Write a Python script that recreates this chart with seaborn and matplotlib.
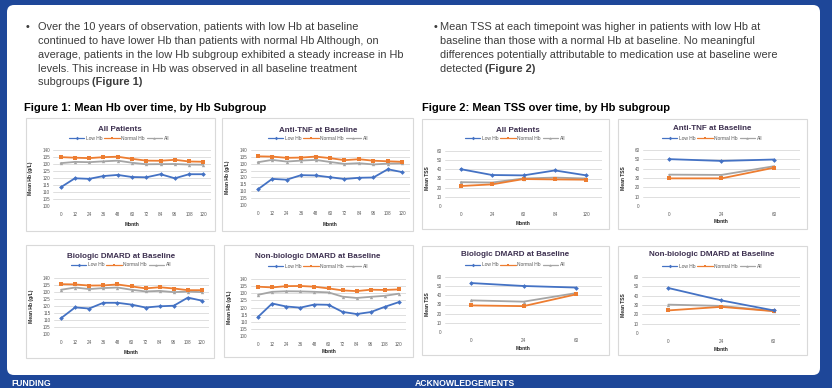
import numpy as np
import pandas as pd
import seaborn as sns
import matplotlib.pyplot as plt
from matplotlib.patches import FancyBboxPatch, Rectangle
from matplotlib.lines import Line2D

# ---------------- data ----------------
groups = ["Low Hb", "Normal Hb", "All"]
months_hb = ["0", "12", "24", "36", "48", "60", "72", "84", "96", "108", "120"]
months_tss_all = ["0", "24", "60", "84", "120"]
months_tss_sub = ["0", "24", "60"]

hb_all_low = [113.3, 119.8, 119.4, 121.4, 122.2, 120.7, 120.5, 122.7, 119.8, 122.7, 122.7]
hb_all_normal = [134.9, 134.5, 134.2, 134.9, 135.2, 133.7, 132.4, 132.3, 133.0, 131.8, 131.6]
hb_all_all = [130.6, 131.5, 131.3, 131.9, 132.4, 130.9, 129.8, 129.9, 130.0, 129.6, 129.5]

hb_tnf_low = [111.3, 119.0, 118.4, 121.7, 121.5, 120.2, 118.9, 119.8, 120.0, 126.0, 123.9]
hb_tnf_normal = [135.4, 135.2, 134.3, 134.5, 135.2, 134.1, 132.6, 133.3, 132.2, 131.8, 131.4]
hb_tnf_all = [131.1, 132.8, 131.6, 132.3, 132.8, 131.3, 129.9, 130.4, 129.5, 130.1, 130.3]

hb_bio_low = [111.3, 119.0, 118.2, 122.3, 122.3, 121.0, 118.9, 119.8, 120.2, 126.0, 123.8]
hb_bio_normal = [135.6, 135.4, 134.6, 134.7, 135.4, 134.0, 132.6, 133.4, 132.5, 131.3, 131.3]
hb_bio_all = [131.6, 133.2, 132.1, 132.8, 133.2, 131.6, 130.4, 130.8, 129.9, 130.3, 129.9]

hb_nonbio_low = [113.4, 122.8, 120.7, 119.9, 122.1, 121.9, 116.9, 115.4, 116.8, 120.5, 123.8]
hb_nonbio_normal = [134.6, 134.1, 135.0, 135.1, 134.6, 133.4, 132.0, 131.5, 132.5, 132.3, 132.7]
hb_nonbio_all = [128.9, 131.0, 131.4, 131.3, 131.0, 130.6, 127.6, 126.7, 127.5, 128.2, 129.7]

tss_all_low = [40.2, 33.8, 33.4, 38.8, 33.4]
tss_all_normal = [21.8, 23.6, 29.4, 29.0, 28.7]
tss_all_all = [26.0, 25.6, 30.0, 31.0, 30.0]

tss_tnf_low = [50.2, 48.3, 49.8]
tss_tnf_normal = [29.6, 29.6, 41.0]
tss_tnf_all = [33.6, 33.3, 42.6]

tss_bio_low = [53.4, 50.2, 48.5]
tss_bio_normal = [29.0, 28.2, 41.0]
tss_bio_all = [34.5, 33.1, 42.4]

tss_nonbio_low = [48.2, 35.0, 24.2]
tss_nonbio_normal = [24.2, 28.0, 23.4]
tss_nonbio_all = [30.4, 29.0, 23.6]

hb_yticks = [100, 105, 110, 115, 120, 125, 130, 135, 140]
tss_yticks = [0, 10, 20, 30, 40, 50, 60]

titles = ["All Patients", "Anti-TNF at Baseline", "Biologic DMARD at Baseline",
          "Non-biologic DMARD at Baseline"]

body_left = [
    "Over the 10 years of observation, patients with low Hb at baseline",
    "continued to have lower Hb than patients with normal Hb Although, on",
    "average, patients in the low Hb subgroup exhibited a steady increase in Hb",
    "levels. This increase in Hb was observed in all baseline treatment",
    "subgroups ",
]
body_left_bold = "(Figure 1)"
body_right = [
    "Mean TSS at each timepoint was higher in patients with low Hb at",
    "baseline than those with a normal Hb at baseline. No meaningful",
    "differences potentially attributable to medication use at baseline were",
    "detected ",
]
body_right_bold = "(Figure 2)"
heading1 = "Figure 1: Mean Hb over time, by Hb Subgroup"
heading2 = "Figure 2: Mean TSS over time, by Hb subgroup"
footer_left = "FUNDING"
footer_right = "ACKNOWLEDGEMENTS"

# ---------------- style ----------------
W, H = 832, 388
BLUE = "#1e4799"
palette = {"Low Hb": "#4472c4", "Normal Hb": "#ed7d31", "All": "#a5a5a5"}
markers = {"Low Hb": "D", "Normal Hb": "s", "All": "^"}

sns.set_theme(style="white")
plt.rcParams["font.family"] = ["Liberation Sans", "DejaVu Sans"]

fig = plt.figure(figsize=(W / 100, H / 100), dpi=100)
fig.patch.set_facecolor(BLUE)

bg = fig.add_axes([0, 0, 1, 1])
bg.set_xlim(0, W)
bg.set_ylim(H, 0)
bg.axis("off")

bg.add_patch(FancyBboxPatch((7, 5), 813, 370, boxstyle="round,pad=0,rounding_size=7",
                            facecolor="white", edgecolor="none"))

TXT = "#3c3c3c"
FS = 7.9


def body(lines, bold_tail, x_bullet, x0, ys):
    bg.text(x_bullet, ys[0] + 3.2, "\u2022", fontsize=FS, color=TXT, ha="center", va="baseline")
    last = None
    for ln, y in zip(lines, ys):
        last = bg.text(x0, y + 3.5, ln, fontsize=FS, color=TXT, ha="left", va="baseline")
    fig.canvas.draw()
    bb = last.get_window_extent()
    xend = bb.x1  # pixels
    bg.text(xend, ys[len(lines) - 1] + 3.5, bold_tail, fontsize=FS, color=TXT,
            fontweight="bold", ha="left", va="baseline")


body(body_left, body_left_bold, 28, 37.5, [27, 40.7, 54.3, 68, 81.5])
body(body_right, body_right_bold, 435.5, 440, [26.8, 40.7, 54.5, 68.5])

bg.text(24.5, 107 + 3.8, heading1, fontsize=8.0, fontweight="bold", color="black",
        ha="left", va="baseline")
bg.text(421.5, 107 + 3.8, heading2, fontsize=8.0, fontweight="bold", color="black",
        ha="left", va="baseline")

bg.text(11, 378.5, footer_left, fontsize=6.2, fontweight="bold", color="white",
        ha="left", va="top")
bg.text(415, 378.5, footer_right, fontsize=6.2, fontweight="bold", color="white",
        ha="left", va="top")

charts = [
    dict(title=titles[0], months=months_hb, low=hb_all_low, normal=hb_all_normal, al=hb_all_all,
         yt=hb_yticks, ylabel="Mean Hb (g/L)", area=(53.5, 150, 210.5, 206),
         frame=(26, 118, 215, 231), tpos=(120, 129.5), lpos=(119, 138.5), ylx=33, xly=222),
    dict(title=titles[1], months=months_hb, low=hb_tnf_low, normal=hb_tnf_normal, al=hb_tnf_all,
         yt=hb_yticks, ylabel="Mean Hb (g/L)", area=(250.5, 150, 409.5, 205),
         frame=(222, 118, 413, 231), tpos=(318, 130), lpos=(318, 138.5), ylx=230, xly=222),
    dict(title=titles[0], months=months_tss_all, low=tss_all_low, normal=tss_all_normal,
         al=tss_all_all, yt=tss_yticks, ylabel="Mean TSS", area=(445, 151, 602, 206),
         frame=(422, 119, 609, 229), tpos=(518, 130), lpos=(515, 138.5), ylx=430, xly=221),
    dict(title=titles[1], months=months_tss_sub, low=tss_tnf_low, normal=tss_tnf_normal,
         al=tss_tnf_all, yt=tss_yticks, ylabel="Mean TSS", area=(643, 150, 800, 206),
         frame=(618, 119, 807, 229), tpos=(712, 128.5), lpos=(712, 138), ylx=626, xly=219),
    dict(title=titles[2], months=months_hb, low=hb_bio_low, normal=hb_bio_normal, al=hb_bio_all,
         yt=hb_yticks, ylabel="Mean Hb (g/L)", area=(54, 278, 209, 334),
         frame=(26, 245, 214, 358), tpos=(121, 256), lpos=(121, 265), ylx=34, xly=350),
    dict(title=titles[3], months=months_hb, low=hb_nonbio_low, normal=hb_nonbio_normal,
         al=hb_nonbio_all, yt=hb_yticks, ylabel="Mean Hb (g/L)", area=(251, 279, 406, 336),
         frame=(224, 245, 413, 357), tpos=(318, 257), lpos=(318, 266), ylx=232, xly=349),
    dict(title=titles[2], months=months_tss_sub, low=tss_bio_low, normal=tss_bio_normal,
         al=tss_bio_all, yt=tss_yticks, ylabel="Mean TSS", area=(445, 277, 602, 332),
         frame=(422, 246, 609, 355), tpos=(515, 255), lpos=(515, 265), ylx=430, xly=346),
    dict(title=titles[3], months=months_tss_sub, low=tss_nonbio_low, normal=tss_nonbio_normal,
         al=tss_nonbio_all, yt=tss_yticks, ylabel="Mean TSS", area=(642, 277, 800, 333),
         frame=(618, 246, 807, 355), tpos=(712, 255), lpos=(712, 266), ylx=626, xly=347),
]

TICKC = "#595959"
GRID = "#d9d9d9"

for c in charts:
    fx0, fy0, fx1, fy1 = c["frame"]
    bg.add_patch(Rectangle((fx0, fy0), fx1 - fx0, fy1 - fy0, facecolor="white",
                           edgecolor="#d9d9d9", lw=0.8))
    x0, y0, x1, y1 = c["area"]
    ax = fig.add_axes([x0 / W, 1 - y1 / H, (x1 - x0) / W, (y1 - y0) / H])
    n = len(c["months"])
    pos = np.arange(n)
    df = pd.DataFrame({
        "pos": np.tile(pos, 3),
        "value": np.concatenate([c["low"], c["normal"], c["al"]]),
        "group": np.repeat(groups, n),
    })
    sns.lineplot(data=df, x="pos", y="value", hue="group", style="group",
                 hue_order=["All", "Normal Hb", "Low Hb"], style_order=["All", "Normal Hb", "Low Hb"],
                 palette=palette, markers=markers, dashes=False, markersize=2.4,
                 markeredgewidth=0, linewidth=1.3, legend=False, ax=ax)
    ax.set_xlim(-0.5, n - 0.5)
    ax.set_ylim(c["yt"][0], c["yt"][-1])
    ax.set_xticks(pos)
    ax.set_xticklabels(c["months"])
    ax.set_yticks(c["yt"])
    ax.set_yticklabels([str(v) for v in c["yt"]])
    ax.set_facecolor("none")
    for s in ax.spines.values():
        s.set_visible(False)
    ax.grid(axis="y", color=GRID, lw=0.6)
    ax.grid(axis="x", visible=False)
    ax.set_axisbelow(True)
    ax.tick_params(axis="both", labelsize=3.3, colors=TICKC, length=0)
    ax.tick_params(axis="y", pad=2.5)
    ax.tick_params(axis="x", pad=4)
    ax.set_xlabel("Month", fontsize=3.5, fontweight="bold", color="#222222")
    ax.set_ylabel(c["ylabel"], fontsize=3.6, fontweight="bold", color="#222222")
    ax.xaxis.set_label_coords(0.5, (y1 - c["xly"]) / (y1 - y0))
    ax.yaxis.set_label_coords((c["ylx"] - x0) / (x1 - x0), 0.5)

    tx, ty = c["tpos"]
    bg.text(tx, ty, c["title"], fontsize=5.8, fontweight="bold", color="#3d3050",
            ha="center", va="center")
    handles = [Line2D([0], [0], color=palette[g], marker=markers[g], markersize=1.8,
                      markeredgewidth=0, lw=0.9) for g in groups]
    lx, ly = c["lpos"]
    ax.legend(handles, groups, loc="center", bbox_to_anchor=(lx / W, 1 - ly / H),
              bbox_transform=fig.transFigure, ncol=3, frameon=False, fontsize=3.5,
              labelcolor=TICKC, handlelength=3.2, handletextpad=0.3, columnspacing=0.4,
              borderpad=0, borderaxespad=0)

fig.savefig("out.png", dpi=100, facecolor=fig.get_facecolor())
